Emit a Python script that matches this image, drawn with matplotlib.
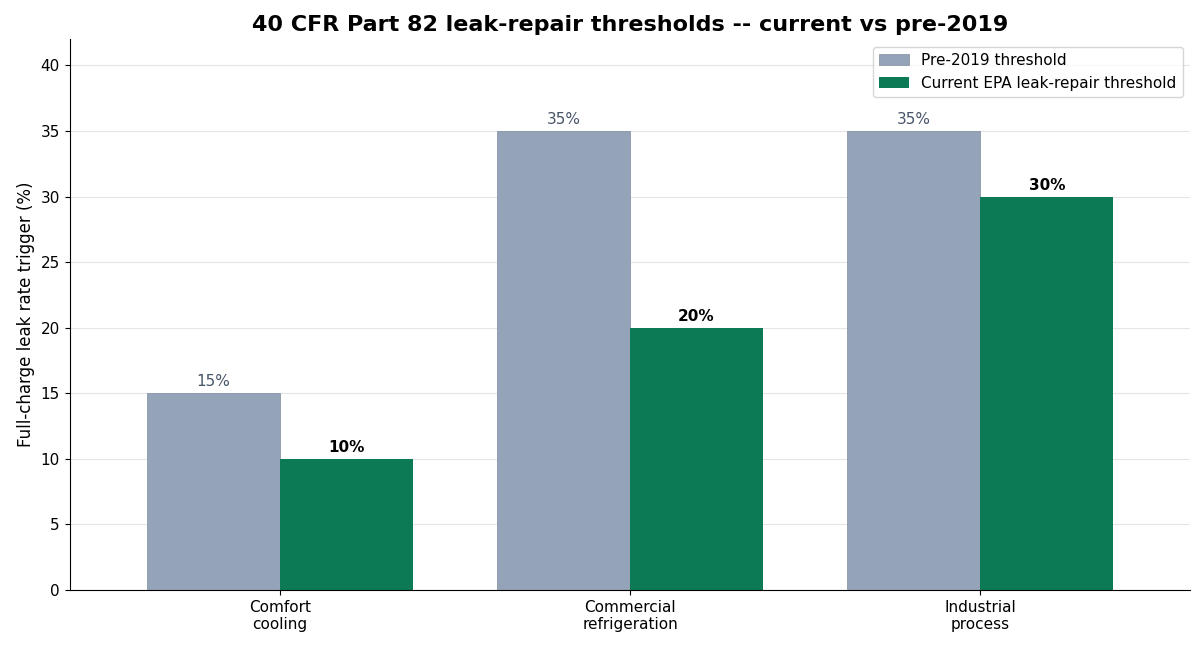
import matplotlib
matplotlib.use("Agg")
import matplotlib.pyplot as plt
import numpy as np

categories = ["Comfort\ncooling", "Commercial\nrefrigeration", "Industrial\nprocess"]
pre2019 = [15, 35, 35]
current = [10, 20, 30]

fig, ax = plt.subplots(figsize=(12, 6.54), dpi=100)
fig.subplots_adjust(left=0.058, right=0.992, top=0.94, bottom=0.098)
x = np.arange(len(categories))
w = 0.38
b1 = ax.bar(x - w/2, pre2019, w, color="#94a3b8", edgecolor="#7f8ca0", linewidth=0.5, label="Pre-2019 threshold", zorder=2)
b2 = ax.bar(x + w/2, current, w, color="#0b7a55", label="Current EPA leak-repair threshold", zorder=2)
for r, v in zip(b1, pre2019):
    ax.text(r.get_x() + r.get_width()/2, v + 0.3, f"{v}%", ha="center", va="bottom", fontsize=11, color="#475569")
for r, v in zip(b2, current):
    ax.text(r.get_x() + r.get_width()/2, v + 0.3, f"{v}%", ha="center", va="bottom", fontsize=11, fontweight="bold", color="black")
ax.set_xticks(x)
ax.set_xticklabels(categories, fontsize=11)
ax.set_ylim(0, 42)
ax.set_xlim(-0.6, 2.6)
ax.set_yticks(range(0, 41, 5))
ax.tick_params(axis="y", labelsize=11)
ax.set_ylabel("Full-charge leak rate trigger (%)", fontsize=12)
ax.set_title("40 CFR Part 82 leak-repair thresholds -- current vs pre-2019", fontsize=16, fontweight="bold")
ax.grid(axis="y", color="#e5e5e5", linewidth=0.8, zorder=0)
ax.set_axisbelow(True)
for s in ["top", "right"]:
    ax.spines[s].set_visible(False)
ax.legend(loc="upper right", fontsize=11)
fig.savefig("out.png")
